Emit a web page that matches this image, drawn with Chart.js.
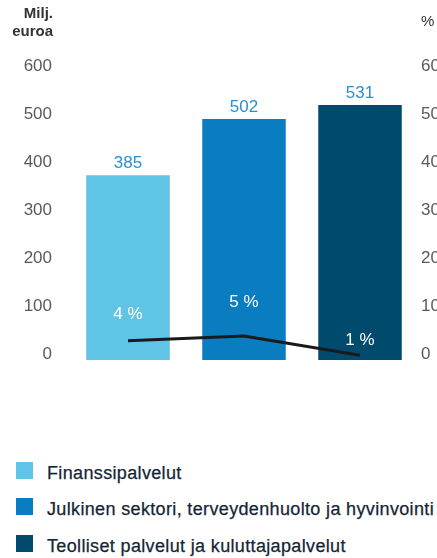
<!DOCTYPE html>
<html>
<head>
<meta charset="utf-8">
<script src="https://cdn.jsdelivr.net/npm/chart.js@4.4.0/dist/chart.umd.min.js"></script>
<style>
  body { margin: 0; background: #fff; width: 437px; height: 558px; overflow: hidden; position: relative; font-family: "Liberation Sans", Arial, sans-serif; }
  #wrap { position: absolute; left: 0; top: 0; }
  .leg { position: absolute; left: 0; width: 437px; height: 24px; white-space: nowrap; overflow: hidden; }
  .leg .sw { position: absolute; left: 16px; top: 0; width: 17px; height: 17px; }
  .leg .tx { position: absolute; left: 47px; top: 1px; font-size: 18px; letter-spacing: 0.35px; line-height: 20px; color: #142536; -webkit-text-stroke: 0.25px #142536; }
</style>
</head>
<body>
<div id="wrap"><canvas id="chart" width="437" height="400"></canvas></div>
<div id="legend"></div>
<script>
// -- DATA -- //
const categories = ["Finanssipalvelut", "Julkinen sektori, terveydenhuolto ja hyvinvointi", "Teolliset palvelut ja kuluttajapalvelut"];
const revenue = [385, 502, 531];          // Milj. euroa
const growth = [4, 5, 1];                 // %
const left_ticks = [0, 100, 200, 300, 400, 500, 600];
const right_ticks = [0, 10, 20, 30, 40, 50, 60];

const bar_colors = ["#5fc4e5", "#0a7dc1", "#004b6d"];
const value_color = "#2a8fd3";
const pct_offsets = [26, 34, 15];   // label lift above line point
const font_family = '"Liberation Sans", Arial, sans-serif';

// -- LEGEND (html) -- //
const legend_el = document.getElementById("legend");
const legend_tops = [462, 498, 535];
for (let i = 0; i < categories.length; i++) {
    let row = document.createElement("div");
    row.className = "leg";
    row.style.top = legend_tops[i] + "px";
    row.innerHTML = '<div class="sw" style="background:' + bar_colors[i] + '"></div><div class="tx"></div>';
    row.querySelector(".tx").textContent = categories[i];
    legend_el.appendChild(row);
}

// -- LABELS PLUGIN -- //
const label_plugin = {
    id: "labels",
    afterDatasetsDraw(chart) {
        const ctx = chart.ctx;
        ctx.save();
        const bars = chart.getDatasetMeta(0).data;
        const pts = chart.getDatasetMeta(1).data;

        ctx.font = "17px " + font_family;
        ctx.textAlign = "center";
        ctx.textBaseline = "bottom";
        ctx.fillStyle = value_color;
        bars.forEach((b, i) => {
            ctx.fillText(String(revenue[i]), b.x, b.y - 3);
        });

        ctx.font = "17px " + font_family;
        ctx.textBaseline = "middle";
        ctx.fillStyle = "#ffffff";
        pts.forEach((p, i) => {
            ctx.fillText(growth[i] + " %", p.x, p.y - pct_offsets[i]);
        });

        // axis titles
        ctx.font = "bold 15px " + font_family;
        ctx.fillStyle = "#333333";
        ctx.textAlign = "right";
        ctx.textBaseline = "alphabetic";
        ctx.fillText("Milj.", 53, 18);
        ctx.fillText("euroa", 53, 36);
        ctx.font = "15px " + font_family;
        ctx.textAlign = "left";
        ctx.fillText("%", 421, 26);
        ctx.restore();
    }
};

// -- CHART -- //
const ctx = document.getElementById("chart").getContext("2d");
const chart = new Chart(ctx, {
    data: {
        labels: categories,
        datasets: [
            {
                type: "bar",
                label: "Milj. euroa",
                data: revenue,
                backgroundColor: bar_colors,
                borderWidth: 0,
                categoryPercentage: 1,
                barPercentage: 0.72,
                yAxisID: "y",
                order: 1
            },
            {
                type: "line",
                label: "%",
                data: growth,
                borderColor: "#1a1a1a",
                borderWidth: 3,
                pointRadius: 0,
                tension: 0,
                yAxisID: "y1",
                order: 0
            }
        ]
    },
    options: {
        responsive: false,
        animation: false,
        layout: { padding: { top: 72, bottom: 40, left: 0, right: 0 } },
        plugins: { legend: { display: false }, tooltip: { enabled: false } },
        scales: {
            x: { display: false, offset: true },
            y: {
                position: "left",
                min: 0, max: 600,
                afterBuildTicks: (s) => { s.ticks = left_ticks.map(v => ({ value: v })); },
                afterFit: (s) => { s.width = 70; },
                grid: { display: false, drawTicks: false },
                border: { display: false },
                ticks: { padding: 18, labelOffset: -6, color: "#5a5a5a", font: { family: font_family, size: 17 } }
            },
            y1: {
                position: "right",
                min: 0, max: 60,
                afterBuildTicks: (s) => { s.ticks = right_ticks.map(v => ({ value: v })); },
                afterFit: (s) => { s.width = 19; },
                grid: { display: false, drawTicks: false },
                border: { display: false },
                ticks: { padding: 3, labelOffset: -6, color: "#5a5a5a", font: { family: font_family, size: 17 } }
            }
        }
    },
    plugins: [label_plugin]
});
</script>
</body>
</html>
